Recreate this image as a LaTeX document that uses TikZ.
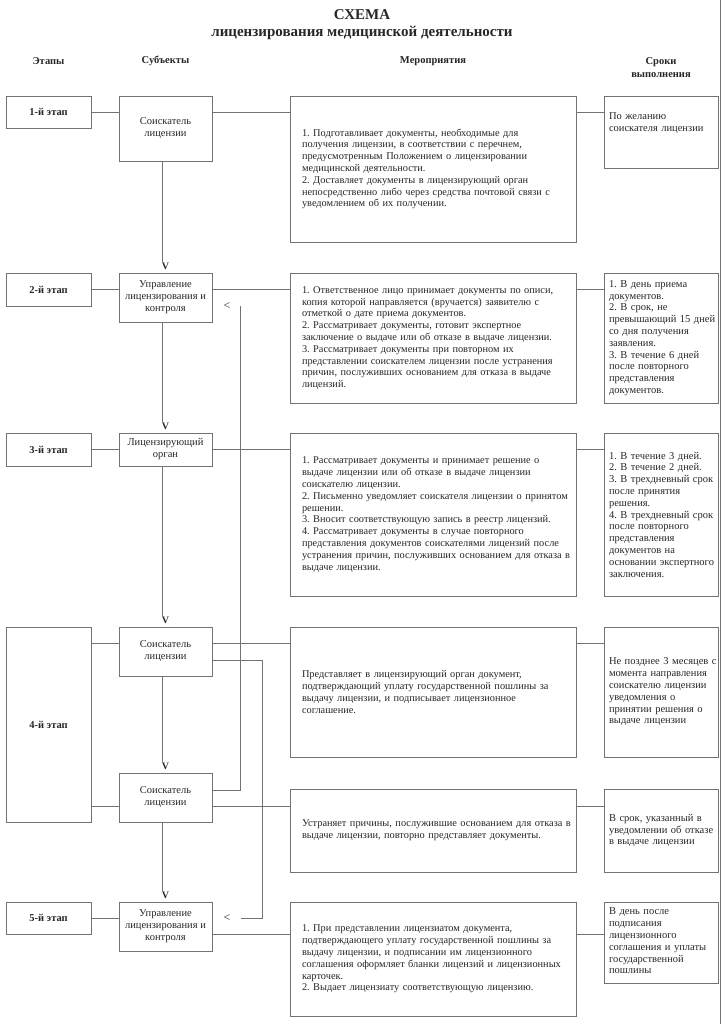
\documentclass[tikz,border=0pt]{standalone}
\usepackage{fontspec}
\setmainfont{Liberation Serif}
\usetikzlibrary{positioning}
\frenchspacing

\begin{document}
\begin{tikzpicture}[x=1pt,y=-1pt,
  ramka/.style={draw=black!55, line width=0.8pt, inner sep=0pt, outer sep=0pt, text=black!85},
  etap/.style={ramka, minimum width=85pt, font=\fontsize{10.5}{12}\selectfont\bfseries},
  subekt/.style={ramka, minimum width=93pt, align=center, font=\fontsize{10.5}{12}\selectfont},
  meropr/.style={ramka, minimum width=286pt, text width=286pt, inner xsep=0pt, align=left,
    font=\fontsize{10.35}{11.8}\selectfont, execute at begin node={\frenchspacing\leftskip=12pt}},
  srok/.style={ramka, minimum width=114pt, text width=112pt, inner xsep=1pt, align=left,
    font=\fontsize{10.5}{11.8}\selectfont, execute at begin node={\frenchspacing\leftskip=4pt}},
  liniya/.style={draw=black!55, line width=0.8pt},
  strelka/.style={font=\fontsize{10}{10}\selectfont\bfseries, inner sep=0.5pt, text=black!85},
  vozvrat/.style={font=\fontsize{12}{12}\selectfont, inner sep=0.5pt, text=black!85},
  shapka/.style={font=\fontsize{10.5}{13}\selectfont\bfseries, align=center, text=black!85}
]
\useasboundingbox (0,0) rectangle (724,1024);

% Заголовок и шапка
\node[font=\fontsize{15}{18}\selectfont\bfseries, text=black!85] (shema) at (362,15) {СХЕМА};
\node[font=\fontsize{15}{18}\selectfont\bfseries, text=black!85] (podzag) at (362,33) {лицензирования медицинской деятельности};
\node[shapka] (h-etapy) at (48.5,61) {Этапы};
\node[shapka] (h-subekty) at (165.5,61) {Субъекты};
\node[shapka] (h-meropr) at (433,61) {Мероприятия};
\node[shapka] (h-sroki) at (661,68) {Сроки\\выполнения};

% Этапы
\node[etap, minimum height=32pt] (e1) at (48.5,112) {1-й этап};
\node[etap, minimum height=33pt] (e2) at (48.5,289.5) {2-й этап};
\node[etap, minimum height=33pt] (e3) at (48.5,449.5) {3-й этап};
\node[etap, minimum height=195pt] (e4) at (48.5,724.5) {4-й этап};
\node[etap, minimum height=32pt] (e5) at (48.5,918) {5-й этап};

% Субъекты
\node[subekt, minimum height=65pt] (s1) at (165.5,128.5) {Соискатель\\лицензии};
\node[subekt, minimum height=49pt] (s2) at (165.5,297.5) {Управление\\лицензирования и\\контроля};
\node[subekt, minimum height=33pt] (s3) at (165.5,449.5) {Лицензирующий\\орган};
\node[subekt, minimum height=49pt] (s4a) at (165.5,651.5) {Соискатель\\лицензии};
\node[subekt, minimum height=49pt] (s4b) at (165.5,797.5) {Соискатель\\лицензии};
\node[subekt, minimum height=49pt] (s5) at (165.5,926.5) {Управление\\лицензирования и\\контроля};

% Мероприятия
\node[meropr, minimum height=146pt] (a1) at (433,169) {1. Подготавливает документы, необходимые для\\
получения лицензии, в соответствии с перечнем,\\
предусмотренным Положением о лицензировании\\
медицинской деятельности.\\
2. Доставляет документы в лицензирующий орган\\
непосредственно либо через средства почтовой связи с\\
уведомлением об их получении.};
\node[meropr, minimum height=130pt] (a2) at (433,338) {1. Ответственное лицо принимает документы по описи,\\
копия которой направляется (вручается) заявителю с\\
отметкой о дате приема документов.\\
2. Рассматривает документы, готовит экспертное\\
заключение о выдаче или об отказе в выдаче лицензии.\\
3. Рассматривает документы при повторном их\\
представлении соискателем лицензии после устранения\\
причин, послуживших основанием для отказа в выдаче\\
лицензий.};
\node[meropr, minimum height=163pt] (a3) at (433,514.5) {1. Рассматривает документы и принимает решение о\\
выдаче лицензии или об отказе в выдаче лицензии\\
соискателю лицензии.\\
2. Письменно уведомляет соискателя лицензии о принятом\\
решении.\\
3. Вносит соответствующую запись в реестр лицензий.\\
4. Рассматривает документы в случае повторного\\
представления документов соискателями лицензий после\\
устранения причин, послуживших основанием для отказа в\\
выдаче лицензии.};
\node[meropr, minimum height=130pt] (a4a) at (433,692) {Представляет в лицензирующий орган документ,\\
подтверждающий уплату государственной пошлины за\\
выдачу лицензии, и подписывает лицензионное\\
соглашение.};
\node[meropr, minimum height=83pt] (a4b) at (433,830.5) {Устраняет причины, послужившие основанием для отказа в\\
выдаче лицензии, повторно представляет документы.};
\node[meropr, minimum height=114pt] (a5) at (433,959) {1. При представлении лицензиатом документа,\\
подтверждающего уплату государственной пошлины за\\
выдачу лицензии, и подписании им лицензионного\\
соглашения оформляет бланки лицензий и лицензионных\\
карточек.\\
2. Выдает лицензиату соответствующую лицензию.};

% Сроки
\node[srok, minimum height=72pt, text depth=31pt] (t1) at (661,132) {По желанию\\соискателя лицензии};
\node[srok, minimum height=130pt] (t2) at (661,338) {1. В день приема\\документов.\\2. В срок, не\\превышающий 15 дней\\со дня получения\\заявления.\\3. В течение 6 дней\\после повторного\\представления\\документов.};
\node[srok, minimum height=163pt] (t3) at (661,514.5) {1. В течение 3 дней.\\2. В течение 2 дней.\\3. В трехдневный срок\\после принятия\\решения.\\4. В трехдневный срок\\после повторного\\представления\\документов на\\основании экспертного\\заключения.};
\node[srok, minimum height=130pt] (t4a) at (661,692) {Не позднее 3 месяцев с\\момента направления\\соискателю лицензии\\уведомления о\\принятии решения о\\выдаче лицензии};
\node[srok, minimum height=83pt] (t4b) at (661,830.5) {В срок, указанный в\\уведомлении об отказе\\в выдаче лицензии};
\node[srok, minimum height=81pt, text depth=62pt] (t5) at (661,942.5) {В день после\\подписания\\лицензионного\\соглашения и уплаты\\государственной\\пошлины};

% Метки V над субъектами
\node[strelka, above=3pt of s2] (v2) {V};
\node[strelka, above=3pt of s3] (v3) {V};
\node[strelka, above=3pt of s4a] (v4a) {V};
\node[strelka, above=3pt of s4b] (v4b) {V};
\node[strelka, above=3pt of s5] (v5) {V};

% Метки возврата
\node[vozvrat] (lt2) at (227,306) {<};
\node[vozvrat] (lt5) at (227,918) {<};

% Вертикальные связи
\draw[liniya] ([xshift=-3.5pt]s1.south) -- ([xshift=-3.5pt]v2.north);
\draw[liniya] ([xshift=-3.5pt]s2.south) -- ([xshift=-3.5pt]v3.north);
\draw[liniya] ([xshift=-3.5pt]s3.south) -- ([xshift=-3.5pt]v4a.north);
\draw[liniya] ([xshift=-3.5pt]s4a.south) -- ([xshift=-3.5pt]v4b.north);
\draw[liniya] ([xshift=-3.5pt]s4b.south) -- ([xshift=-3.5pt]v5.north);

% Горизонтальные связи, этапы 1-3
\draw[liniya] (e1.east) -- (e1.east -| s1.west);
\draw[liniya] (s1.east |- e1.east) -- (a1.west |- e1.east);
\draw[liniya] (a1.east |- e1.east) -- (t1.west |- e1.east);
\draw[liniya] (e2.east) -- (e2.east -| s2.west);
\draw[liniya] (s2.east |- e2.east) -- (a2.west |- e2.east);
\draw[liniya] (a2.east |- e2.east) -- (t2.west |- e2.east);
\draw[liniya] (e3.east) -- (e3.east -| s3.west);
\draw[liniya] (s3.east |- e3.east) -- (a3.west |- e3.east);
\draw[liniya] (a3.east |- e3.east) -- (t3.west |- e3.east);

% Этап 4
\coordinate (y4a) at (0,643);
\coordinate (y4b) at (0,806);
\draw[liniya] (e4.east |- y4a) -- (s4a.west |- y4a);
\draw[liniya] (s4a.east |- y4a) -- (a4a.west |- y4a);
\draw[liniya] (a4a.east |- y4a) -- (t4a.west |- y4a);
\draw[liniya] (e4.east |- y4b) -- (s4b.west |- y4b);
\draw[liniya] (s4b.east |- y4b) -- (a4b.west |- y4b);
\draw[liniya] (a4b.east |- y4b) -- (t4b.west |- y4b);

% Этап 5
\coordinate (y5) at (0,934);
\draw[liniya] (e5.east) -- (e5.east -| s5.west);
\draw[liniya] (s5.east |- y5) -- (a5.west |- y5);
\draw[liniya] (a5.east |- y5) -- (t5.west |- y5);

% Линии возврата
\coordinate (r1) at (240,790);
\draw[liniya] (s4b.east |- r1) -- (r1) -- (r1 |- lt2);
\coordinate (r2a) at (262,660);
\coordinate (r2b) at (241,918);
\draw[liniya] (s4a.east |- r2a) -- (r2a) -- (r2a |- r2b) -- (r2b);

% Край листа
\draw[liniya] (720,0) -- (720,1024);
\end{tikzpicture}
\end{document}
